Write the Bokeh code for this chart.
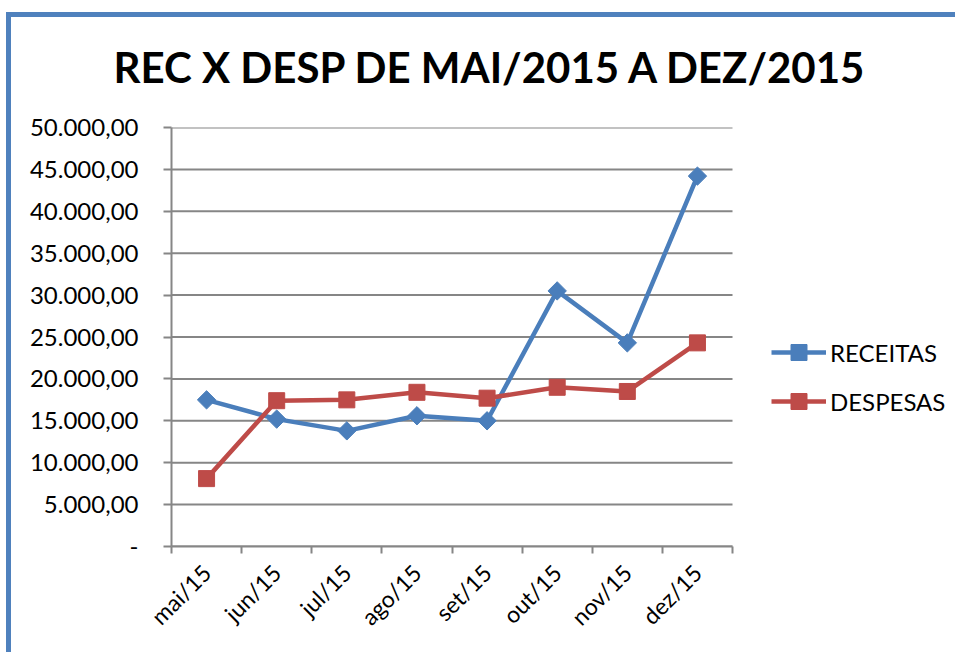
from math import pi
from bokeh.plotting import figure
from bokeh.models import (Range1d, FixedTicker, Legend, LegendItem, ColumnDataSource)
from bokeh.embed import file_html
from bokeh.resources import INLINE

# ---- data ----
months = ["mai/15", "jun/15", "jul/15", "ago/15", "set/15", "out/15", "nov/15", "dez/15"]
receitas = [17500, 15200, 13800, 15600, 15000, 30500, 24300, 44200]
despesas = [8100, 17400, 17500, 18400, 17700, 19000, 18500, 24300]
y_ticks = [0, 5000, 10000, 15000, 20000, 25000, 30000, 35000, 40000, 45000, 50000]
y_tick_labels = ["-", "5.000,00", "10.000,00", "15.000,00", "20.000,00", "25.000,00",
                 "30.000,00", "35.000,00", "40.000,00", "45.000,00", "50.000,00"]
title_text = "REC X DESP DE MAI/2015 A DEZ/2015"

FONT = "Lato"
BLUE = "#4A7EBB"
RED = "#BE4B48"
GRAY = "#868686"
FRAME = "#4F81BD"

# layout: the plotting frame spans to the right edge (so the legend is not
# clipped); the categories occupy only the first CAT_PX pixels of it.
CANVAS_W, CANVAS_H = 949, 652
BORDER_L, BORDER_T, BORDER_B = 165, 127, 106
FRAME_W = CANVAS_W - BORDER_L
CAT_PX = 561
n = len(months)
y_max = y_ticks[-1]
x_end = n * FRAME_W / CAT_PX

x_pos = [i + 0.5 for i in range(n)]
src = ColumnDataSource(dict(x=x_pos, rec=receitas, desp=despesas))
grid_src = ColumnDataSource(dict(x0=[0] * len(y_ticks), x1=[n] * len(y_ticks),
                                 y=y_ticks))

p = figure(width=CANVAS_W, height=CANVAS_H, output_backend="svg", toolbar_location=None,
           x_range=Range1d(0, x_end), y_range=Range1d(0, y_max),
           min_border_left=BORDER_L, min_border_right=0, min_border_top=BORDER_T,
           min_border_bottom=BORDER_B)
# blue chart-area frame (left and top edges) drawn behind a transparent border area
p.styles = {"margin-left": "6px",
            "box-shadow": (f"inset 0 12px 0 0 #ffffff, inset 0 17px 0 0 {FRAME}, "
                           f"inset 5px 0 0 0 {FRAME}")}
p.outline_line_color = None
p.background_fill_color = "white"
p.border_fill_color = None

# title
p.title.text = title_text
p.title.text_font = FONT
p.title.text_font_style = "bold"
p.title.text_font_size = "42px"
p.title.text_color = "black"
p.title.align = "left"
p.title.vertical_align = "bottom"
p.title.offset = -58
p.title.standoff = 72

# axes
xa = p.xaxis[0]
xa.bounds = (0, n)
xa.ticker = FixedTicker(ticks=x_pos, minor_ticks=list(range(n + 1)))
xa.major_label_overrides = {x: m for x, m in zip(x_pos, months)}
xa.major_tick_out = 0
xa.major_tick_in = 0
xa.minor_tick_out = 7
xa.minor_tick_in = 0
xa.minor_tick_line_color = GRAY
xa.minor_tick_line_width = 2
xa.axis_line_color = GRAY
xa.axis_line_width = 2
xa.major_label_orientation = pi / 4
xa.major_label_text_font = FONT
xa.major_label_text_font_size = "23px"
xa.major_label_text_color = "black"
xa.major_label_standoff = 15

ya = p.yaxis[0]
ya.ticker = FixedTicker(ticks=y_ticks, minor_ticks=[])
ya.major_label_overrides = {t: l for t, l in zip(y_ticks, y_tick_labels)}
ya.major_tick_out = 8
ya.major_tick_in = 0
ya.major_tick_line_color = GRAY
ya.major_tick_line_width = 2
ya.minor_tick_line_color = None
ya.axis_line_color = GRAY
ya.axis_line_width = 2
ya.major_label_text_font = FONT
ya.major_label_text_font_size = "24px"
ya.major_label_text_color = "black"
ya.major_label_standoff = 25

p.xgrid.grid_line_color = None
p.ygrid.grid_line_color = None
# horizontal gridlines limited to the category area
p.segment(x0="x0", x1="x1", y0="y", y1="y", source=grid_src,
          line_color=GRAY, line_width=2)

# series
l1 = p.line("x", "rec", source=src, line_color=BLUE, line_width=4.5)
m1 = p.scatter("x", "rec", source=src, marker="square", angle=pi / 4, size=13,
               fill_color=BLUE, line_color=BLUE)
l2 = p.line("x", "desp", source=src, line_color=RED, line_width=4.5)
m2 = p.scatter("x", "desp", source=src, marker="square", size=16,
               fill_color=RED, line_color=RED)

legend = Legend(items=[LegendItem(label="RECEITAS", renderers=[l1, m1]),
                       LegendItem(label="DESPESAS", renderers=[l2, m2])],
                location=(600, 125), orientation="vertical")
legend.border_line_color = None
legend.background_fill_alpha = 0
legend.padding = 0
legend.margin = 0
legend.glyph_width = 55
legend.glyph_height = 40
legend.spacing = 9
legend.label_standoff = 4
legend.label_text_font = FONT
legend.label_text_font_size = "24px"
legend.label_text_color = "black"
p.add_layout(legend, "center")

open("out.html", "w").write(file_html(p, INLINE))
